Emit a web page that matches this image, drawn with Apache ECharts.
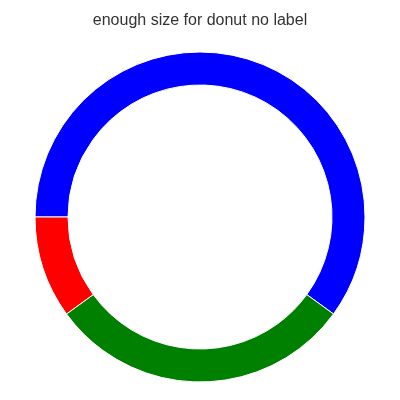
<!DOCTYPE html>
<html>
<head>
<meta charset="utf-8">
<script src="https://cdn.jsdelivr.net/npm/echarts@6/dist/echarts.min.js"></script>
<style>
  html, body { margin: 0; padding: 0; background: #fff; }
  #chart { width: 400px; height: 400px; }
</style>
</head>
<body>
<div id="chart"></div>
<script>
// data
var names = ['A', 'B', 'C'];
var values = [60, 30, 10];
var colors = ['#0000ff', '#008000', '#ff0000'];

var myChart = echarts.init(document.getElementById('chart'));
myChart.setOption({
  animation: false,
  title: {
    text: 'enough size for donut no label',
    left: 'center',
    top: 8,
    textStyle: { fontFamily: 'Liberation Sans, Arial', fontSize: 16, fontWeight: 'normal', color: '#333' }
  },
  series: [{
    type: 'pie',
    center: [200, 217],
    radius: [132, 165],
    startAngle: 180,
    clockwise: true,
    label: { show: false },
    labelLine: { show: false },
    itemStyle: { borderColor: '#fff', borderWidth: 1 },
    data: names.map(function (n, i) {
      return { name: n, value: values[i], itemStyle: { color: colors[i] } };
    })
  }]
});
</script>
</body>
</html>
